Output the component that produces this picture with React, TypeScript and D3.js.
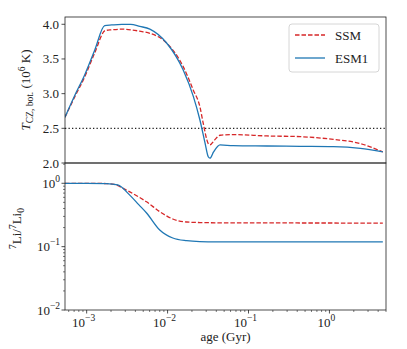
import React from 'react';
import * as d3 from 'd3';

// age in Gyr
const ssmTAge = [5.4e-4, 7.1e-4, 9.45e-4, 1.26e-3, 1.7e-3, 2.04e-3, 2.72e-3, 4.54e-3, 6.04e-3, 9.73e-3, 1.56e-2, 2.08e-2, 2.51e-2, 2.76e-2, 3.18e-2, 3.34e-2, 3.8e-2, 4.45e-2, 6.44e-2, 0.169, 0.436, 1.12, 2.41, 4.57];
const ssmT = [2.66, 2.95, 3.24, 3.59, 3.91, 3.92, 3.93, 3.9, 3.87, 3.73, 3.39, 3.05, 2.81, 2.57, 2.28, 2.26, 2.33, 2.4, 2.41, 2.39, 2.38, 2.34, 2.28, 2.16];
const esmTAge = [5.4e-4, 7.1e-4, 9.45e-4, 1.26e-3, 1.67e-3, 2.04e-3, 2.72e-3, 3.5e-3, 4.54e-3, 6.04e-3, 9.73e-3, 1.56e-2, 2.08e-2, 2.51e-2, 2.9e-2, 3.18e-2, 3.34e-2, 3.7e-2, 4.45e-2, 6.44e-2, 0.169, 0.436, 1.12, 2.41, 4.57];
const esmT = [2.66, 2.97, 3.27, 3.63, 3.98, 3.99, 4.0, 4.0, 3.97, 3.93, 3.73, 3.34, 2.96, 2.62, 2.29, 2.09, 2.07, 2.16, 2.26, 2.25, 2.245, 2.24, 2.235, 2.21, 2.16];

const ssmLiAge = [5.4e-4, 1.0e-3, 1.75e-3, 2.2e-3, 3.1e-3, 4.2e-3, 5.5e-3, 8.0e-3, 1.16e-2, 1.72e-2, 2.5e-2, 4.0e-2, 0.1, 1.0, 4.57];
const ssmLi = [1.0, 1.0, 0.99, 0.96, 0.78, 0.63, 0.51, 0.356, 0.273, 0.245, 0.24, 0.238, 0.237, 0.236, 0.235];
const esmLiAge = [5.4e-4, 1.0e-3, 1.75e-3, 2.42e-3, 3.41e-3, 4.4e-3, 5.5e-3, 8.0e-3, 1.16e-2, 1.72e-2, 2.5e-2, 4.0e-2, 0.1, 1.0, 4.57];
const esmLi = [1.0, 1.0, 0.99, 0.94, 0.65, 0.46, 0.34, 0.183, 0.137, 0.124, 0.12, 0.119, 0.119, 0.119, 0.119];

const tTicks = [2.0, 2.5, 3.0, 3.5, 4.0];
const liTicks = [1, 0.1, 0.01];
const ageTicks = [1e-3, 1e-2, 1e-1, 1];

const W = 407;
const H = 349;
const L = 65;
const R = 386;
const T0 = 17;
const MID = 163;
const B = 310;
const FONT = "'Liberation Serif', 'DejaVu Serif', serif";
const RED = '#d62728';
const BLUE = '#1f77b4';

const exps: Record<number, string> = { 1: '0', 0.1: '\u22121', 0.01: '\u22122', 0.001: '\u22123' };

function Pow10({ x, y, e, anchor }: { x: number; y: number; e: string; anchor: string }) {
  return (
    <text x={x} y={y} textAnchor={anchor} fontFamily={FONT} fontSize={13} fill="#222">
      10<tspan dy={-6} fontSize={9.5}>{e}</tspan>
    </text>
  );
}

export default function App() {
  const x = d3.scaleLog().domain([5.4e-4, 5.0]).range([L, R]);
  const yT = d3.scaleLinear().domain([2.0, 4.105]).range([MID, T0]);
  const yLi = d3.scaleLog().domain([0.01, 2.09]).range([B, MID]);

  const lineT = (ages: number[], vals: number[]) =>
    d3.line<number>().x((_, i) => x(ages[i])).y((v) => yT(v)).curve(d3.curveMonotoneX)(vals) || '';
  const lineLi = (ages: number[], vals: number[]) =>
    d3.line<number>().x((_, i) => x(ages[i])).y((v) => yLi(v)).curve(d3.curveMonotoneX)(vals) || '';

  const minorX: number[] = [];
  for (let d = -4; d <= 0; d++) {
    for (let k = 2; k <= 9; k++) {
      const v = k * Math.pow(10, d);
      if (v >= x.domain()[0] && v <= x.domain()[1]) minorX.push(v);
    }
  }
  const minorY: number[] = [];
  for (let d = -2; d <= 0; d++) {
    for (let k = 2; k <= 9; k++) {
      const v = k * Math.pow(10, d);
      if (v >= yLi.domain()[0] && v <= yLi.domain()[1]) minorY.push(v);
    }
  }

  return (
    <svg width={W} height={H} style={{ position: 'absolute', left: 0, top: 0 }}>
      <defs>
        <clipPath id="cTop"><rect x={L} y={T0} width={R - L} height={MID - T0} /></clipPath>
        <clipPath id="cBot"><rect x={L} y={MID} width={R - L} height={B - MID} /></clipPath>
      </defs>
      <rect width={W} height={H} fill="#fff" />

      {/* top panel */}
      <line x1={L} x2={R} y1={yT(2.5)} y2={yT(2.5)} stroke="#222" strokeWidth={1.3} strokeDasharray="1.3,2.2" />
      <g clipPath="url(#cTop)" fill="none" strokeWidth={1.3}>
        <path d={lineT(ssmTAge, ssmT)} stroke={RED} strokeDasharray="4.5,2" />
        <path d={lineT(esmTAge, esmT)} stroke={BLUE} />
      </g>
      {tTicks.map((t) => (
        <g key={t}>
          <line x1={L - 3.5} x2={L} y1={yT(t)} y2={yT(t)} stroke="#222" strokeWidth={0.8} />
          <text x={L - 6} y={yT(t) + 4.5} textAnchor="end" fontFamily={FONT} fontSize={13} fill="#222">{t.toFixed(1)}</text>
        </g>
      ))}
      <rect x={L} y={T0} width={R - L} height={MID - T0} fill="none" stroke="#222" strokeWidth={0.8} />

      {/* bottom panel */}
      <g clipPath="url(#cBot)" fill="none" strokeWidth={1.3}>
        <path d={lineLi(ssmLiAge, ssmLi)} stroke={RED} strokeDasharray="4.5,2" />
        <path d={lineLi(esmLiAge, esmLi)} stroke={BLUE} />
      </g>
      {liTicks.map((t) => (
        <g key={t}>
          <line x1={L - 3.5} x2={L} y1={yLi(t)} y2={yLi(t)} stroke="#222" strokeWidth={0.8} />
          <Pow10 x={L - 5} y={yLi(t) + 4.5} e={exps[t]} anchor="end" />
        </g>
      ))}
      {minorY.map((t) => (
        <line key={t} x1={L - 2} x2={L} y1={yLi(t)} y2={yLi(t)} stroke="#222" strokeWidth={0.6} />
      ))}
      {ageTicks.map((t) => (
        <g key={t}>
          <line x1={x(t)} x2={x(t)} y1={B} y2={B + 3.5} stroke="#222" strokeWidth={0.8} />
          <Pow10 x={x(t) - 3} y={B + 17} e={exps[t]} anchor="middle" />
        </g>
      ))}
      {minorX.map((t) => (
        <line key={t} x1={x(t)} x2={x(t)} y1={B} y2={B + 2} stroke="#222" strokeWidth={0.6} />
      ))}
      <rect x={L} y={MID} width={R - L} height={B - MID} fill="none" stroke="#222" strokeWidth={0.8} />

      {/* labels */}
      <text transform={`translate(30,${(T0 + MID) / 2}) rotate(-90)`} textAnchor="middle" fontFamily={FONT} fontSize={13} fill="#222">
        <tspan fontStyle="italic">T</tspan>
        <tspan dy={3} fontSize={9.5}>CZ, bot.</tspan>
        <tspan dy={-3}> (10</tspan>
        <tspan dy={-5} fontSize={9.5}>6</tspan>
        <tspan dy={5}> K)</tspan>
      </text>
      <text transform={`translate(21,${(MID + B) / 2 - 8}) rotate(-90)`} textAnchor="middle" fontFamily={FONT} fontSize={13} fill="#222">
        <tspan dy={-5} fontSize={9.5}>7</tspan>
        <tspan dy={5}>Li/</tspan>
        <tspan dy={-5} fontSize={9.5}>7</tspan>
        <tspan dy={5}>Li</tspan>
        <tspan dy={3} fontSize={9.5}>0</tspan>
      </text>
      <text x={(L + R) / 2} y={341} textAnchor="middle" fontFamily={FONT} fontSize={13} fill="#222">age (Gyr)</text>

      {/* legend */}
      <g>
        <rect x={289} y={24} width={90} height={48} rx={3} fill="#fff" fillOpacity={0.8} stroke="#ccc" strokeWidth={0.8} />
        <line x1={295} x2={325} y1={35} y2={35} stroke={RED} strokeWidth={1.3} strokeDasharray="4.5,2" />
        <text x={335} y={39.5} fontFamily={FONT} fontSize={13} fill="#222">SSM</text>
        <line x1={295} x2={325} y1={58} y2={58} stroke={BLUE} strokeWidth={1.3} />
        <text x={335} y={62.5} fontFamily={FONT} fontSize={13} fill="#222">ESM1</text>
      </g>
    </svg>
  );
}
